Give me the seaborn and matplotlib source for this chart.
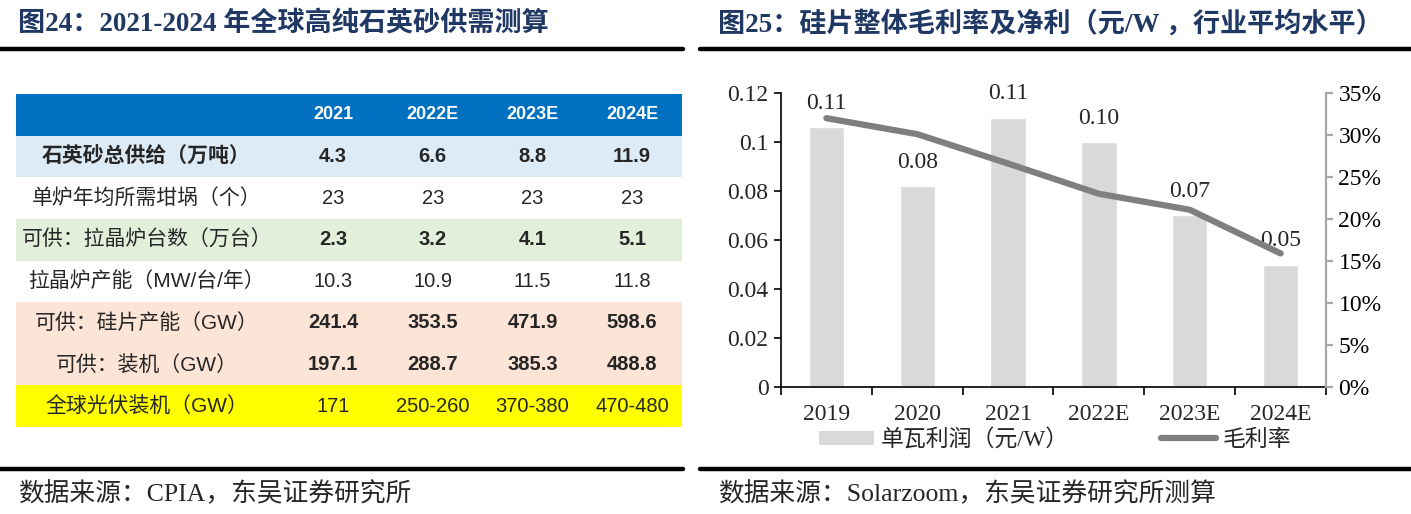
import matplotlib
matplotlib.use("Agg")
import matplotlib.pyplot as plt
from matplotlib.lines import Line2D
from matplotlib.patches import Patch
from matplotlib.ticker import FuncFormatter, PercentFormatter
import numpy as np
import seaborn as sns

# ---------------------------------------------------------------------------
# Data: table (left) - quartz sand supply / demand
# ---------------------------------------------------------------------------
table_years = ["2021", "2022E", "2023E", "2024E"]
row_labels = [
    "石英砂总供给（万吨）",
    "单炉年均所需坩埚（个）",
    "可供：拉晶炉台数（万台）",
    "拉晶炉产能（MW/台/年）",
    "可供：硅片产能（GW）",
    "可供：装机（GW）",
    "全球光伏装机（GW）",
]
quartz_supply = ["4.3", "6.6", "8.8", "11.9"]
crucibles_per_furnace = ["23", "23", "23", "23"]
furnace_count = ["2.3", "3.2", "4.1", "5.1"]
furnace_capacity = ["10.3", "10.9", "11.5", "11.8"]
wafer_capacity = ["241.4", "353.5", "471.9", "598.6"]
install_supply = ["197.1", "288.7", "385.3", "488.8"]
global_install = ["171", "250-260", "370-380", "470-480"]
table_values = [quartz_supply, crucibles_per_furnace, furnace_count, furnace_capacity,
                wafer_capacity, install_supply, global_install]

# ---------------------------------------------------------------------------
# Data: chart (right) - wafer profit per W and gross margin
# ---------------------------------------------------------------------------
chart_years = ["2019", "2020", "2021", "2022E", "2023E", "2024E"]
profit_per_w = [0.106, 0.082, 0.110, 0.100, 0.070, 0.050]
gross_margin = [0.320, 0.301, 0.266, 0.230, 0.211, 0.159]

# ---------------------------------------------------------------------------
# Style
# ---------------------------------------------------------------------------
sns.set_theme(style="white")
SERIF = ["Liberation Serif", "Noto Sans CJK SC"]
SANS = ["Liberation Sans", "Noto Sans CJK SC"]
plt.rcParams["font.family"] = SERIF
plt.rcParams["axes.unicode_minus"] = False

NAVY = "#1F3864"
row_colors = ["#DDEBF7", "white", "#E2EFDA", "white", "#FCE4D6", "#FCE4D6", "#FFFF00"]
label_weight = ["bold", "normal", "normal", "normal", "normal", "normal", "normal"]
value_weight = ["bold", "normal", "bold", "normal", "bold", "bold", "normal"]

W, H = 1411, 514
fig = plt.figure(figsize=(W / 100, H / 100), dpi=100)


def fx(px):
    return px / W


def fy(py):
    return 1 - py / H


# titles, rules and sources
fig.text(fx(18), fy(24), "图24：2021-2024 年全球高纯石英砂供需测算", fontsize=19.5,
         weight="bold", color=NAVY, va="center", family=SERIF)
fig.text(fx(718), fy(24), "图25：硅片整体毛利率及净利（元/W ，行业平均水平）", fontsize=19.5,
         weight="bold", color=NAVY, va="center", family=SERIF)
for x0, x1 in [(0, 683), (700, 1411)]:
    fig.add_artist(Line2D([fx(x0), fx(x1)], [fy(49), fy(49)], color="black", lw=3.2))
    fig.add_artist(Line2D([fx(x0), fx(x1)], [fy(469), fy(469)], color="black", lw=3.2))
fig.text(fx(18), fy(494), "数据来源：CPIA，东吴证券研究所", fontsize=18.5, va="center")
fig.text(fx(718), fy(494), "数据来源：Solarzoom，东吴证券研究所测算", fontsize=18.5, va="center")

# ---------------------------------------------------------------------------
# Left: table
# ---------------------------------------------------------------------------
tax = fig.add_axes([fx(16), fy(427), fx(666), (427 - 94) / H])
tax.set_xlim(-2.18, 4.5)
tax.set_ylim(len(row_labels) + 0.5, -0.5)
tax.axis("off")

tax.axhspan(-0.5, 0.5, color="#0070C0", lw=0)
for j, yr in enumerate(table_years):
    tax.text(j + 1, 0, yr, ha="center", va="center", color="white", fontsize=13,
             weight="bold", family=SANS)
for i, (lab, vals) in enumerate(zip(row_labels, table_values), start=1):
    tax.axhspan(i - 0.5, i + 0.5, color=row_colors[i - 1], lw=0)
    tax.text(-0.87, i, lab, ha="center", va="center", fontsize=15,
             weight=label_weight[i - 1], family=SANS)
    for j, v in enumerate(vals):
        tax.text(j + 1, i, v, ha="center", va="center", fontsize=14.5,
                 weight=value_weight[i - 1], family=SANS)

# ---------------------------------------------------------------------------
# Right: bar + line chart
# ---------------------------------------------------------------------------
ax = fig.add_axes([fx(781), fy(387), fx(545), 294 / H])
sns.barplot(x=chart_years, y=profit_per_w, color="#D9D9D9", saturation=1,
            width=0.39, ax=ax, zorder=1)
ax2 = ax.twinx()
pos = list(range(len(chart_years)))
sns.lineplot(x=pos, y=gross_margin, ax=ax2, color="#7F7F7F", lw=4.5,
             solid_capstyle="round", zorder=2)

# bar value labels
for i, v in enumerate(profit_per_w):
    ax.annotate(f"{v:.2f}", (i, v), xytext=(0, 17), textcoords="offset points",
                ha="center", va="center", fontsize=17, zorder=5)

ax.set_xlim(-0.5, 5.5)
ax.set_ylim(0, 0.12)
ax.set_yticks(np.arange(0, 0.1201, 0.02))
ax.yaxis.set_major_formatter(FuncFormatter(lambda v, p: f"{round(v, 2):g}"))
ax2.set_ylim(0, 0.35)
ax2.set_yticks(np.arange(0, 0.351, 0.05))
ax2.yaxis.set_major_formatter(PercentFormatter(1, decimals=0))
ax.set_xlabel("")
ax.set_ylabel("")
ax2.set_ylabel("")

for a in (ax, ax2):
    a.spines["top"].set_visible(False)
ax.spines["right"].set_visible(False)
ax2.spines["left"].set_visible(False)
ax2.spines["bottom"].set_visible(False)
ax.spines["left"].set_color("black")
ax.spines["bottom"].set_color("black")
ax.spines["left"].set_linewidth(1.2)
ax.spines["bottom"].set_linewidth(1.2)
ax2.spines["right"].set_color("#A6A6A6")
ax2.spines["right"].set_linewidth(1.6)

ax.tick_params(axis="y", left=True, direction="out", length=5, width=1.2, color="black",
               labelsize=17, pad=4)
ax2.tick_params(axis="y", right=True, direction="out", length=5, width=1.6, color="#A6A6A6",
                labelsize=17, labelcolor="black", pad=4)
ax.set_xticks(np.arange(-0.5, 6, 1), minor=True)
ax.tick_params(axis="x", which="major", length=0, labelsize=17, pad=12)
ax.tick_params(axis="x", which="minor", bottom=True, direction="out", length=6, width=1.2,
               color="black")

handles = [
    Patch(facecolor="#D9D9D9", edgecolor="none", label="单瓦利润（元/W）"),
    Line2D([], [], color="#7F7F7F", lw=4.5, solid_capstyle="round", label="毛利率"),
]
fig.legend(handles=handles, loc="center left", bbox_to_anchor=(fx(810), fy(440)), ncol=2,
           frameon=False, fontsize=16.5, handlelength=2.4, handleheight=0.6,
           columnspacing=4.0, handletextpad=0.3, borderaxespad=0)

fig.savefig("out.png", dpi=100)
